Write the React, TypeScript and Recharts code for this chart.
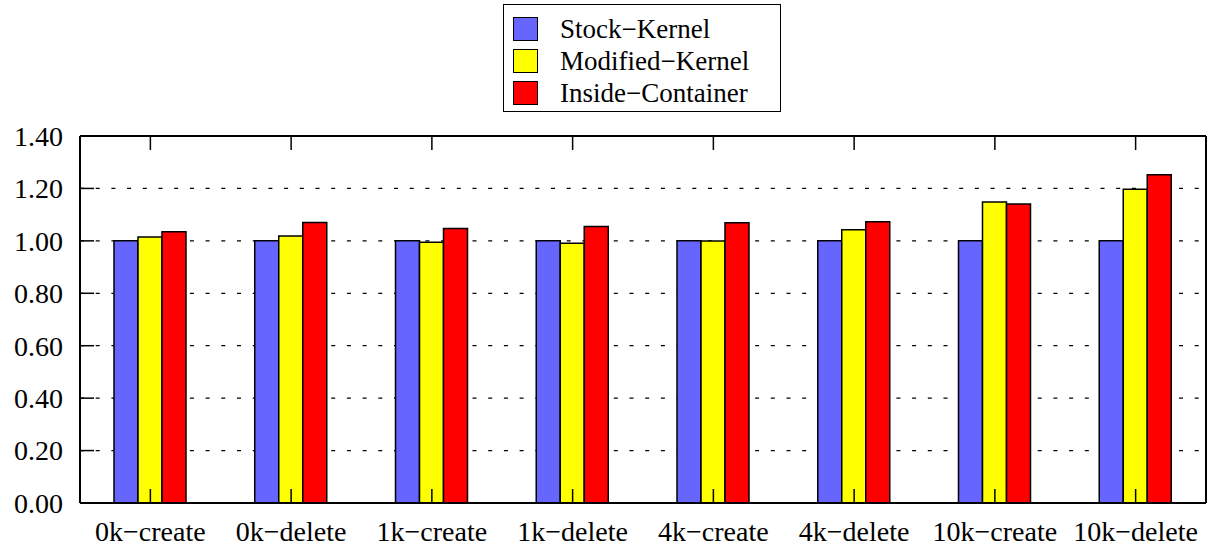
import { BarChart, Bar, XAxis, YAxis, CartesianGrid, Legend } from 'recharts'

const categories = ['0k−create', '0k−delete', '1k−create', '1k−delete', '4k−create', '4k−delete', '10k−create', '10k−delete']
const stockKernel = [1.0, 1.0, 1.0, 1.0, 1.0, 1.0, 1.0, 1.0]
const modifiedKernel = [1.015, 1.019, 0.995, 0.991, 0.999, 1.042, 1.148, 1.197]
const insideContainer = [1.035, 1.07, 1.047, 1.055, 1.069, 1.073, 1.141, 1.252]
const yTicks = [0, 0.2, 0.4, 0.6, 0.8, 1.0, 1.2, 1.4]

const series = [
    { key: 'stock', name: 'Stock−Kernel', color: '#6666ff' },
    { key: 'modified', name: 'Modified−Kernel', color: '#ffff00' },
    { key: 'inside', name: 'Inside−Container', color: '#ff0000' },
]

const data = categories.map((name, i) => ({
    name,
    stock: stockKernel[i],
    modified: modifiedKernel[i],
    inside: insideContainer[i],
}))

const FONT = "'Liberation Serif', 'Times New Roman', Times, 'Nimbus Roman', 'DejaVu Serif', serif"
const TICK_LEN = 14
const Y_GAP = 17
const X_GAP = 0

const LeftTick = ({ x, y, payload }: any) => (
    <g>
        <line x1={x + Y_GAP} x2={x + Y_GAP + TICK_LEN} y1={y} y2={y} stroke="#000" strokeWidth={1.5} />
        <text x={x} y={y} dy="0.35em" textAnchor="end" style={{ fontFamily: FONT }} fontSize={28} fill="#000">
            {Number(payload.value).toFixed(2)}
        </text>
    </g>
)

const RightTick = ({ x, y }: any) => (
    <line x1={x - TICK_LEN} x2={x} y1={y} y2={y} stroke="#000" strokeWidth={1.5} />
)

const TopTick = ({ x, y }: any) => (
    <line x1={x} x2={x} y1={y} y2={y + TICK_LEN} stroke="#000" strokeWidth={1.5} />
)

const BottomTick = ({ x, y, payload }: any) => (
    <g>
        <line x1={x} x2={x} y1={y - X_GAP} y2={y - X_GAP - TICK_LEN} stroke="#000" strokeWidth={1.5} />
        <text x={x} y={y} dy={38} textAnchor="middle" style={{ fontFamily: FONT }} fontSize={28} fill="#000">
            {payload.value}
        </text>
    </g>
)

const LegendBox = () => (
    <div
        style={{
            border: '1.5px solid #000',
            width: 278,
            height: 108,
            boxSizing: 'border-box',
            background: '#fff',
            padding: '8px 0 0 9px',
            fontFamily: FONT,
            fontSize: 27,
            color: '#000',
        }}
    >
        {series.map((s) => (
            <div key={s.key} style={{ display: 'flex', alignItems: 'center', height: 32 }}>
                <span
                    style={{
                        display: 'inline-block',
                        width: 25,
                        height: 24,
                        background: s.color,
                        border: '1.5px solid #000',
                        boxSizing: 'border-box',
                        marginRight: 22,
                    }}
                />
                <span style={{ lineHeight: '32px' }}>{s.name}</span>
            </div>
        ))}
    </div>
)

export default function App() {
    return (
        <div style={{ position: 'absolute', left: 0, top: 0, width: 1214, height: 546, background: '#fff' }}>
            <BarChart
                width={1214}
                height={546}
                data={data}
                margin={{ top: 126, right: 0, bottom: 0, left: 0 }}
                barGap={0}
                barSize={24}
            >
                <CartesianGrid
                    yAxisId="left"
                    xAxisId="bottom"
                    vertical={false}
                    stroke="#000"
                    strokeWidth={1.3}
                    strokeDasharray="4 11.7"
                />
                <XAxis
                    xAxisId="bottom"
                    dataKey="name"
                    height={43}
                    interval={0}
                    tickSize={0}
                    tickMargin={X_GAP}
                    tickLine={false}
                    axisLine={{ stroke: '#000', strokeWidth: 2 }}
                    tick={<BottomTick />}
                />
                <XAxis
                    xAxisId="top"
                    orientation="top"
                    dataKey="name"
                    height={10}
                    interval={0}
                    tickSize={0}
                    tickMargin={0}
                    tickLine={false}
                    axisLine={{ stroke: '#000', strokeWidth: 2 }}
                    tick={<TopTick />}
                />
                <YAxis
                    yAxisId="left"
                    width={80}
                    domain={[0, 1.4]}
                    ticks={yTicks}
                    interval={0}
                    tickSize={0}
                    tickMargin={Y_GAP}
                    tickLine={false}
                    axisLine={{ stroke: '#000', strokeWidth: 2 }}
                    tick={<LeftTick />}
                />
                <YAxis
                    yAxisId="right"
                    orientation="right"
                    width={8}
                    domain={[0, 1.4]}
                    ticks={yTicks}
                    interval={0}
                    tickSize={0}
                    tickMargin={0}
                    tickLine={false}
                    axisLine={{ stroke: '#000', strokeWidth: 2 }}
                    tick={<RightTick />}
                />
                <Legend
                    layout="horizontal"
                    verticalAlign="middle"
                    align="center"
                    wrapperStyle={{ top: 4, left: 503, width: 278, height: 108 }}
                    content={<LegendBox />}
                />
                {series.map((s) => (
                    <Bar
                        key={s.key}
                        xAxisId="bottom"
                        yAxisId="left"
                        dataKey={s.key}
                        name={s.name}
                        fill={s.color}
                        stroke="#000"
                        strokeWidth={1.5}
                        isAnimationActive={false}
                    />
                ))}
            </BarChart>
        </div>
    )
}
